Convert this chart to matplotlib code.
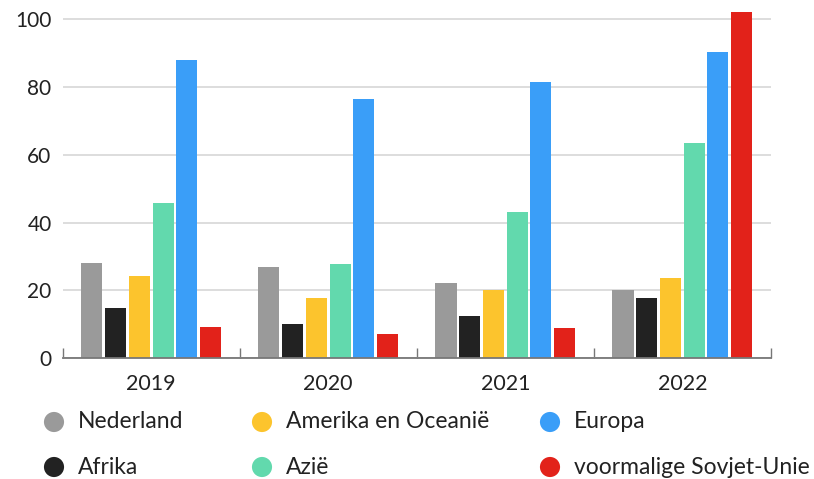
import matplotlib
matplotlib.use("Agg")
import matplotlib.pyplot as plt
import numpy as np

# ==================================================
# DATA
# ==================================================
years = ["2019", "2020", "2021", "2022"]
series = ["Nederland", "Afrika", "Amerika en Oceanië", "Azië", "Europa",
          "voormalige Sovjet-Unie"]
nederland = [28.0, 27.0, 22.1, 20.1]
afrika = [14.7, 10.0, 12.6, 17.9]
amerika = [24.2, 17.9, 20.0, 23.8]
azie = [45.8, 27.7, 43.1, 63.5]
europa = [87.9, 76.3, 81.5, 90.2]
sovjet = [9.3, 7.2, 9.0, 102.1]
values = [nederland, afrika, amerika, azie, europa, sovjet]
colors = ["#9a9a9a", "#222222", "#fcc42d", "#62d9ad", "#3a9ef8", "#e2221a"]
yticks = [0, 20, 40, 60, 80, 100]

plt.rcParams['font.family'] = ['Lato', 'DejaVu Sans']

# ==================================================
# FIGURE
# ==================================================
fig = plt.figure(figsize=(8.14, 4.79), dpi=100)
ax = fig.add_axes([0.077, 0.252, 0.870, 0.7296])

x = np.arange(len(years))
pitch = 0.134
width = 0.119
for i, (vals, col) in enumerate(zip(values, colors)):
    ax.bar(x + (i - 2.5) * pitch, vals, width, color=col, zorder=3)

ax.set_xlim(-0.5, len(years) - 0.5)
ax.set_ylim(0, 103)
ax.set_yticks(yticks)
ax.set_xticks(x)
ax.set_xticklabels(years)
ax.set_xticks(np.arange(-0.5, len(years)), minor=True)
ax.tick_params(axis='x', which='major', length=0, pad=11.5, labelsize=15.5,
               labelcolor='#222222')
ax.tick_params(axis='x', which='minor', direction='in', length=7,
               width=1, color='#777777')
ax.tick_params(axis='y', length=0, pad=8, labelsize=15, labelcolor='#222222')
ax.grid(axis='y', color='#dddddd', linewidth=1.4, zorder=0)
for side in ['left', 'right', 'top']:
    ax.spines[side].set_visible(False)
ax.spines['bottom'].set_color('#777777')
ax.spines['bottom'].set_linewidth(1.3)
ax.spines['bottom'].set_zorder(4)

# ==================================================
# LEGEND (fixed grid, 3 columns x 2 rows)
# ==================================================
lax = fig.add_axes([0, 0, 1, 1])
lax.set_xlim(0, 814)
lax.set_ylim(479, 0)
lax.axis('off')
col_x = [54, 262, 550]
row_y = [422, 467]
for i, (name, col) in enumerate(zip(series, colors)):
    cx = col_x[i // 2]
    cy = row_y[i % 2]
    lax.scatter([cx], [cy], s=210, color=col, edgecolors='none')
    lax.text(cx + 24, cy, name, fontsize=16.5, va='center', ha='left',
             color='#222222')

fig.savefig("out.png", dpi=100)
